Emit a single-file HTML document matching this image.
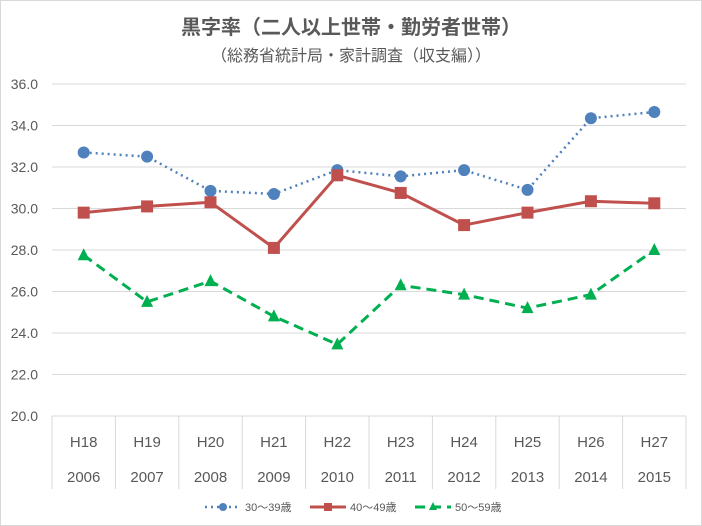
<!DOCTYPE html>
<html><head><meta charset="utf-8"><style>
body{margin:0;background:#fff;font-family:"Liberation Sans","Noto Sans CJK JP",sans-serif;}
#wrap{position:relative;width:702px;height:526px;overflow:hidden;}
</style></head><body>
<div id="wrap">
<svg id="chart" width="702" height="526" xmlns="http://www.w3.org/2000/svg">
<rect x="0.5" y="0.5" width="701" height="525" fill="#fff" stroke="#d9d9d9"/>
<text x="351" y="34" text-anchor="middle" font-size="20" font-weight="bold" fill="#595959">黒字率（二人以上世帯・勤労者世帯）</text>
<text x="351" y="61" text-anchor="middle" font-size="16" fill="#595959">（総務省統計局・家計調査（収支編））</text>
<g id="grid"></g><g id="xax"></g><g id="series"></g><g id="legend"></g>
</svg>
</div>
<script>
const categoriesH = ["H18","H19","H20","H21","H22","H23","H24","H25","H26","H27"];
const categoriesY = ["2006","2007","2008","2009","2010","2011","2012","2013","2014","2015"];
const yTicks = [20,22,24,26,28,30,32,34,36];
const series30 = [32.7,32.5,30.85,30.7,31.85,31.55,31.85,30.9,34.35,34.65];
const series40 = [29.8,30.1,30.3,28.1,31.6,30.75,29.2,29.8,30.35,30.25];
const series50 = [27.75,25.5,26.5,24.8,23.45,26.3,25.85,25.2,25.85,28.0];
const seriesNames = ["30～39歳","40～49歳","50～59歳"];

const NS="http://www.w3.org/2000/svg";
const L=52,R=686,T=84,B=416,ymin=20,ymax=36;
const cw=(R-L)/categoriesH.length;
const xs=i=>L+cw*(i+0.5);
const ys=v=>B-(v-ymin)/(ymax-ymin)*(B-T);
function mk(tag,attrs,parent){const e=document.createElementNS(NS,tag);for(const k in attrs)e.setAttribute(k,attrs[k]);parent.appendChild(e);return e;}
const grid=document.getElementById('grid');
yTicks.forEach(v=>{
  const ln=mk('line',{x1:L,x2:R,y1:ys(v),y2:ys(v),stroke:'#d9d9d9'},grid);
  
  
  const t=mk('text',{x:38,y:ys(v)+5,'text-anchor':'end','font-size':14,fill:'#595959'},grid);
  t.textContent=v.toFixed(1);
  
  
});
const xax=document.getElementById('xax');
for(let i=0;i<=categoriesH.length;i++){
  const x=L+cw*i;
  const ln=mk('line',{x1:x,x2:x,y1:B,y2:489,stroke:'#d9d9d9'},xax);
  
  
}
categoriesH.forEach((c,i)=>{
  const t=mk('text',{x:xs(i),y:447,'text-anchor':'middle','font-size':15,fill:'#595959'},xax);
  t.textContent=c;
  
  
  const t2=mk('text',{x:xs(i),y:482,'text-anchor':'middle','font-size':15,fill:'#595959'},xax);
  t2.textContent=categoriesY[i];
  
  
});
const sg=document.getElementById('series');
function marker(type,x,y,color,parent,s){
  let m;
  if(type==='circle')m=mk('circle',{cx:x,cy:y,r:s,fill:color},parent);
  else if(type==='square')m=mk('rect',{x:x-s,y:y-s,width:2*s,height:2*s,fill:color},parent);
  else m=mk('polygon',{points:`${x},${y-s-1} ${x-s},${y+s-1} ${x+s},${y+s-1}`,fill:color},parent);
  return m;
}
const defs=[
  {d:series30,c:'#4f81bd',dash:'2,4',w:2.5,m:'circle',n:'series-30s'},
  {d:series40,c:'#c0504d',dash:'',w:3,m:'square',n:'series-40s'},
  {d:series50,c:'#00b050',dash:'10,6',w:3,m:'triangle',n:'series-50s'}
];
defs.forEach(s=>{
  const g=mk('g',{},sg);
  
  
  const pl=mk('polyline',{points:s.d.map((v,i)=>xs(i)+','+ys(v)).join(' '),fill:'none',stroke:s.c,'stroke-width':s.w,'stroke-dasharray':s.dash},g);
  
  
  s.d.forEach((v,i)=>{
    const m=marker(s.m,xs(i),ys(v),s.c,g,6);
    
    
  });
});
const lg=document.getElementById('legend');
const lx=[205,310,415];
defs.forEach((s,i)=>{
  const g=mk('g',{},lg);
  
  
  mk('line',{x1:lx[i],x2:lx[i]+36,y1:507,y2:507,stroke:s.c,'stroke-width':s.w,'stroke-dasharray':s.dash},g);
  marker(s.m,lx[i]+18,507,s.c,g,4);
  const t=mk('text',{x:lx[i]+40,y:511,'font-size':11,fill:'#595959'},g);
  t.textContent=seriesNames[i];
});
</script>
</body></html>
